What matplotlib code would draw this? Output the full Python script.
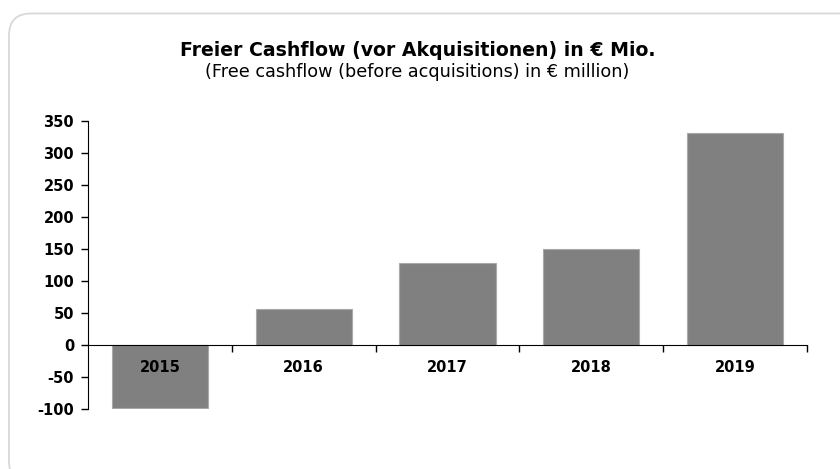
import matplotlib
matplotlib.use('Agg')
import matplotlib.pyplot as plt
from matplotlib.patches import FancyBboxPatch

# Chart data
years = ['2015', '2016', '2017', '2018', '2019']
cashflow = [-98, 56, 128, 150, 331]
y_ticks = [-100, -50, 0, 50, 100, 150, 200, 250, 300, 350]

plt.rcParams['font.family'] = ['DejaVu Sans']

fig = plt.figure(figsize=(8.4, 4.69), dpi=100)

# Background frame with rounded corner (pixel coordinates)
bg = fig.add_axes([0, 0, 1, 1], zorder=0)
bg.set_xlim(0, 840)
bg.set_ylim(469, 0)
bg.axis('off')
bg.add_patch(FancyBboxPatch((9, 13.5), 900, 470, boxstyle='round,pad=0,rounding_size=22',
                            facecolor='white', edgecolor='#d8d8d8', linewidth=1.3))

ax = fig.add_axes([0.1048, 0.1273, 0.8559, 0.6153], zorder=1)
ax.patch.set_alpha(0)

x = list(range(len(years)))
ax.bar(x, cashflow, width=0.67, color='#808080', edgecolor='#a8a8a8', linewidth=0.8, zorder=1)

ax.set_xlim(-0.5, len(years) - 0.5)
ax.set_ylim(-100, 350)
ax.set_yticks(y_ticks)
ax.set_yticklabels([str(v) for v in y_ticks], fontsize=10.5, fontweight='bold')

# x axis on the zero line, ticks between categories, labels under the line
ax.spines['bottom'].set_position(('data', 0))
ax.spines['top'].set_visible(False)
ax.spines['right'].set_visible(False)
ax.set_xticks([i + 0.5 for i in x])
ax.set_xticklabels([])
ax.set_xticks(x, minor=True)
ax.set_xticklabels(years, minor=True, fontsize=10.5, fontweight='bold')
ax.tick_params(axis='x', which='major', direction='out', length=5, width=1)
ax.tick_params(axis='x', which='minor', length=0, pad=11)
ax.tick_params(axis='y', direction='out', length=5, width=1, pad=5)

fig.text(0.497, 0.893, 'Freier Cashflow (vor Akquisitionen) in € Mio.', ha='center', va='center',
         fontsize=13.6, fontweight='bold')
fig.text(0.497, 0.846, '(Free cashflow (before acquisitions) in € million)', ha='center', va='center',
         fontsize=12.7)

fig.savefig('out.png', dpi=100)
